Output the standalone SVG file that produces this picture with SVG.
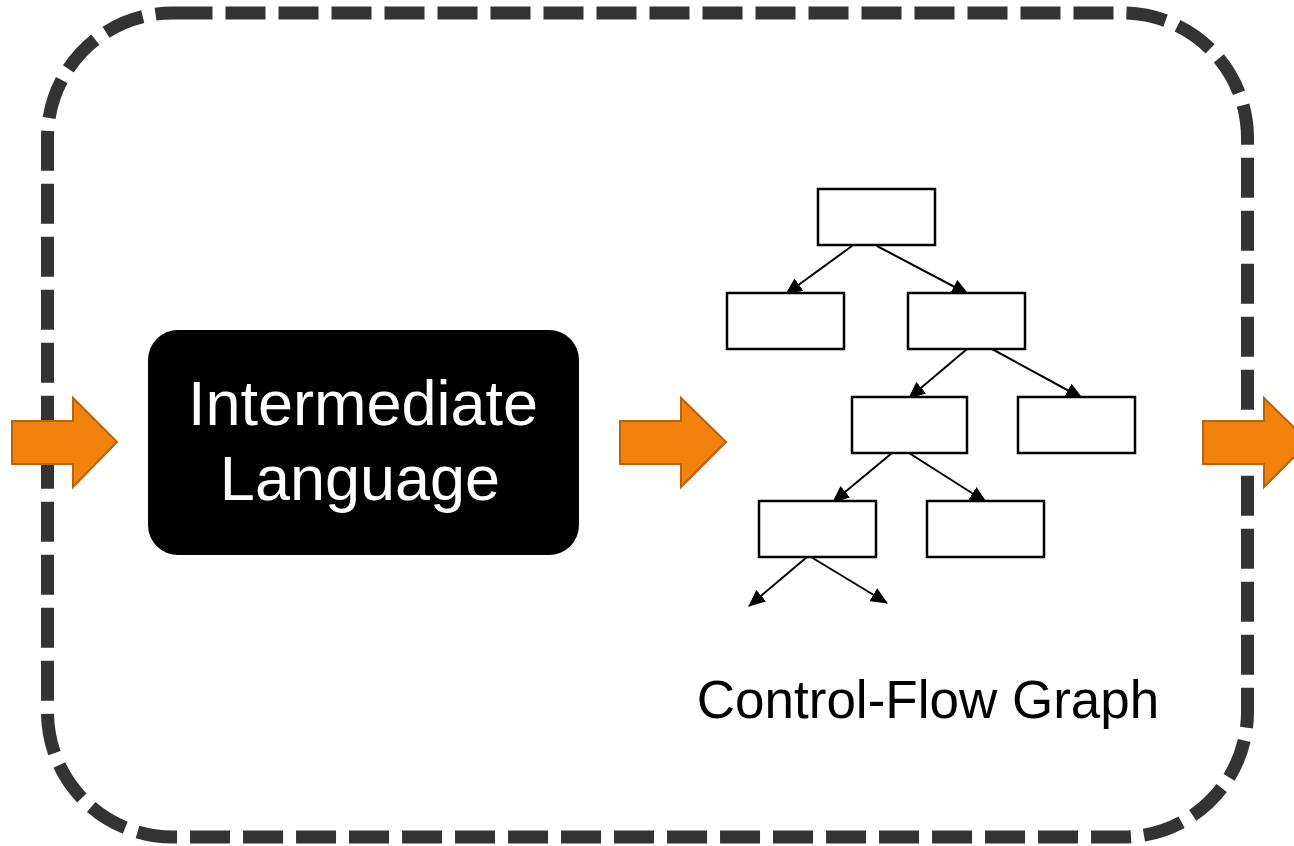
<svg xmlns="http://www.w3.org/2000/svg" width="1294" height="846" viewBox="0 0 1294 846">
  <style>
    .frame { fill: none; stroke: #333333; stroke-width: 13; stroke-dasharray: 40 13; }
    .flow { fill: #F0820D; stroke: #B8630A; stroke-width: 2; stroke-linejoin: miter; }
    .stage { fill: #000000; }
    .stage-text { font-family: "Liberation Sans", Arial, sans-serif; font-size: 63px; fill: #FFFFFF; text-anchor: middle; }
    .block { fill: #FFFFFF; stroke: #000000; stroke-width: 2.5; }
    .edge { stroke: #000000; stroke-width: 2; fill: none; marker-end: url(#tip); }
    .caption { font-family: "Liberation Sans", Arial, sans-serif; font-size: 53px; fill: #000000; text-anchor: middle; }
  </style>
  <defs>
    <marker id="tip" markerUnits="userSpaceOnUse" markerWidth="17" markerHeight="15" refX="16" refY="7.5" orient="auto">
      <path d="M0,0 L17,7.5 L0,15 z" fill="#000000"/>
    </marker>
  </defs>

  <rect width="1294" height="846" fill="#FFFFFF"/>

  <!-- dashed pipeline frame -->
  <rect class="frame" x="47.5" y="13" width="1200" height="824" rx="125" ry="125"/>

  <!-- incoming / outgoing flow arrows -->
  <g id="flow-in">
    <polygon class="flow" points="12,421 73,421 73,398 117,442 73,487 73,464 12,464"/>
  </g>
  <g id="flow-mid">
    <polygon class="flow" points="620,421 681,421 681,398 726,442 681,487 681,464 620,464"/>
  </g>
  <g id="flow-out">
    <polygon class="flow" points="1203,421 1264,421 1264,398 1309,442 1264,487 1264,464 1203,464"/>
  </g>

  <!-- intermediate language stage -->
  <g id="intermediate-language">
    <rect class="stage" x="148" y="330" width="431" height="225" rx="30" ry="30"/>
    <text class="stage-text" x="363" y="425">Intermediate</text>
    <text class="stage-text" x="360" y="500">Language</text>
  </g>

  <!-- control-flow graph edges -->
  <g id="cfg-edges">
    <line class="edge" x1="852" y1="246" x2="786" y2="294"/>
    <line class="edge" x1="877" y1="246" x2="968" y2="294"/>
    <line class="edge" x1="967" y1="349" x2="909" y2="398"/>
    <line class="edge" x1="992" y1="349" x2="1082" y2="398"/>
    <line class="edge" x1="892" y1="453" x2="833" y2="502"/>
    <line class="edge" x1="909" y1="453" x2="986" y2="502"/>
    <line class="edge" x1="807" y1="557" x2="749" y2="606"/>
    <line class="edge" x1="811" y1="557" x2="887" y2="603"/>
  </g>

  <!-- control-flow graph blocks -->
  <g id="cfg-b0"><rect class="block" x="818" y="189" width="117" height="56"/></g>
  <g id="cfg-b1"><rect class="block" x="727" y="293" width="117" height="56"/></g>
  <g id="cfg-b2"><rect class="block" x="908" y="293" width="117" height="56"/></g>
  <g id="cfg-b3"><rect class="block" x="852" y="397" width="115" height="56"/></g>
  <g id="cfg-b4"><rect class="block" x="1018" y="397" width="117" height="56"/></g>
  <g id="cfg-b5"><rect class="block" x="759" y="501" width="117" height="56"/></g>
  <g id="cfg-b6"><rect class="block" x="927" y="501" width="117" height="56"/></g>

  <g id="cfg-caption">
    <text class="caption" x="928" y="718">Control-Flow Graph</text>
  </g>
</svg>
